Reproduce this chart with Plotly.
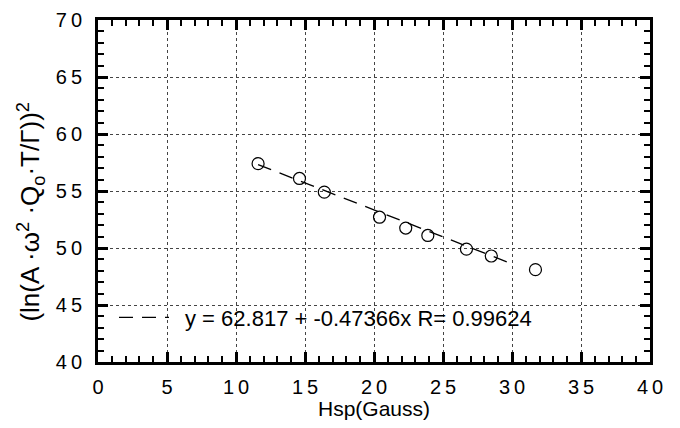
import plotly.graph_objects as go

# measured points
hsp = [11.6, 14.6, 16.4, 20.4, 22.3, 23.9, 26.7, 28.5, 31.7]
lnsq = [57.4, 56.1, 54.9, 52.7, 51.75, 51.1, 49.9, 49.3, 48.1]

# fitted line ends (y = 62.817 - 0.47366x)
fit_x = [11.6, 30.0]
fit_y = [57.32, 48.61]
fit_label = "y = 62.817 + -0.47366x R= 0.99624"

xticks = [0, 5, 10, 15, 20, 25, 30, 35, 40]
yticks = [40, 45, 50, 55, 60, 65, 70]

font = "Liberation Sans, Arial, sans-serif"


def spaced(v):
    return "\u2009".join(str(v))


fig = go.Figure()
fig.add_trace(go.Scatter(x=fit_x, y=fit_y, mode="lines", name="\u2002" + fit_label,
                         line=dict(color="black", width=1.3, dash="14px,9px")))
fig.add_trace(go.Scatter(x=hsp, y=lnsq, mode="markers", showlegend=False,
                         marker=dict(symbol="circle-open", size=12,
                                     color="black", line=dict(width=1.2))))

axis_common = dict(
    showline=True, linecolor="black", linewidth=3, mirror="ticks",
    ticks="inside", ticklen=10, tickwidth=3, tickcolor="black",
    showgrid=True, gridcolor="#444", griddash="dot", gridwidth=1,
    zeroline=False, automargin=False,
    tickfont=dict(family=font, size=20, color="black"),
    minor=dict(dtick=1, ticks="inside", ticklen=6, tickwidth=2,
               tickcolor="black", showgrid=False),
)

fig.update_xaxes(range=[0, 40], tickvals=xticks,
                 ticktext=[spaced(v) for v in xticks],
                 ticklabelstandoff=5,
                 title=dict(text="Hsp(Gauss)", font=dict(family=font, size=21, color="black"),
                            standoff=13),
                 **axis_common)
fig.update_yaxes(range=[40, 70], tickvals=yticks,
                 ticktext=[spaced(v) for v in yticks],
                 ticklabelstandoff=9,
                 **axis_common)

# y title sits a bit below the plot's middle in the original
fig.add_annotation(text="(ln(A ·ω<sup>2</sup> ·Q<sub>o</sub>·T/Γ))<sup>2</sup>",
                   xref="paper", yref="paper", x=-0.123, y=0.44,
                   xanchor="center", yanchor="middle", textangle=-90,
                   showarrow=False, font=dict(family=font, size=26, color="black"))

# page body has an 8px margin, so the figure is a bit smaller than the window
fig.update_layout(
    width=664, height=412,
    margin=dict(l=90, r=22, t=12, b=58),
    paper_bgcolor="white", plot_bgcolor="white",
    font=dict(family=font, color="black"),
    legend=dict(x=0.029, y=0.13, xanchor="left", yanchor="middle", itemwidth=50,
                bgcolor="rgba(0,0,0,0)", font=dict(family=font, size=22)),
)

fig.write_html("out.html")
